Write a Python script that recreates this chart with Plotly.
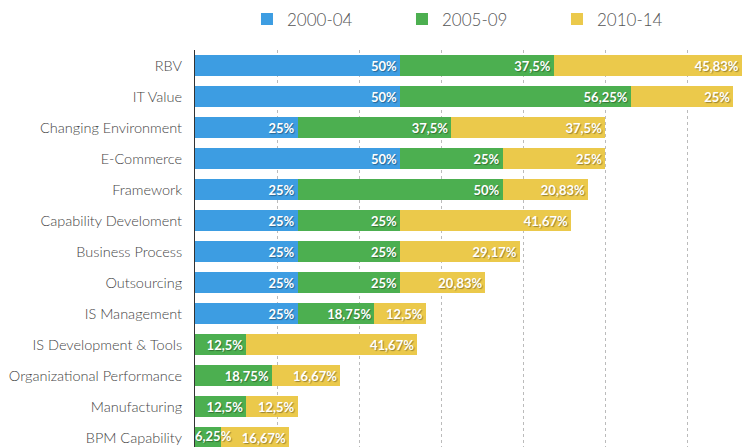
import plotly.graph_objects as go

categories = ["RBV", "IT Value", "Changing Environment", "E-Commerce", "Framework",
              "Capability Develoment", "Business Process", "Outsourcing", "IS Management",
              "IS Development & Tools", "Organizational Performance", "Manufacturing",
              "BPM Capability"]
series_names = ["2000-04", "2005-09", "2010-14"]
v2000 = [50, 50, 25, 50, 25, 25, 25, 25, 25, None, None, None, None]
v2005 = [37.5, 56.25, 37.5, 25, 50, 25, 25, 25, 18.75, 12.5, 18.75, 12.5, 6.25]
v2010 = [45.83, 25, 37.5, 25, 20.83, 41.67, 29.17, 20.83, 12.5, 41.67, 16.67, 12.5, 16.67]
colors = ["#3d9de2", "#4caf50", "#ebc94b"]


def fmt(v):
    if v is None:
        return ""
    return f"{v:g}".replace(".", ",") + "%"


label_font = dict(family="Lato", size=13, color="white", weight="bold",
                  shadow="1px 1px 1px rgba(0,0,0,0.35)")

fig = go.Figure()
small_x, small_y, small_t = [], [], []
base = [0] * len(categories)
for name, vals, col in zip(series_names, [v2000, v2005, v2010], colors):
    texts = []
    for i, v in enumerate(vals):
        if v is not None and v < 8:
            texts.append("")
            small_x.append(base[i])
            small_y.append(categories[i])
            small_t.append(fmt(v))
        else:
            texts.append(fmt(v))
        base[i] += v or 0
    fig.add_trace(go.Bar(
        y=categories, x=vals, name=name, orientation="h",
        marker=dict(color=col, line=dict(width=0)),
        text=texts,
        textposition="inside", insidetextanchor="end", constraintext="none",
        textfont=label_font,
        cliponaxis=False,
    ))

fig.add_trace(go.Scatter(x=small_x, y=small_y, text=small_t, mode="text",
                         textposition="middle right", textfont=label_font,
                         showlegend=False, hoverinfo="skip", cliponaxis=False))

fig.update_layout(
    width=746, height=439,
    barmode="stack", bargap=0.32,
    plot_bgcolor="white", paper_bgcolor="white",
    margin=dict(l=187, r=0, t=42, b=0, autoexpand=False),
    font=dict(family="Lato", color="#444"),
    legend=dict(orientation="h", x=0.093, y=1.077, xanchor="left", yanchor="middle",
                font=dict(size=17, color="#555", weight=300), entrywidth=110,
                traceorder="normal"),
    xaxis=dict(range=[0, 136.3], showgrid=True, gridcolor="#bbbbbb", griddash="dot",
               gridwidth=1, dtick=20, showticklabels=False, zeroline=False, ticks="",
               automargin=False),
    yaxis=dict(range=[12.3, -0.5], showline=True, linecolor="#333", linewidth=1,
               tickfont=dict(size=14.5, color="#444", weight=300), ticks="outside", ticklen=9,
               tickcolor="rgba(0,0,0,0)", automargin=False),
)

fig.write_html("out.html")
